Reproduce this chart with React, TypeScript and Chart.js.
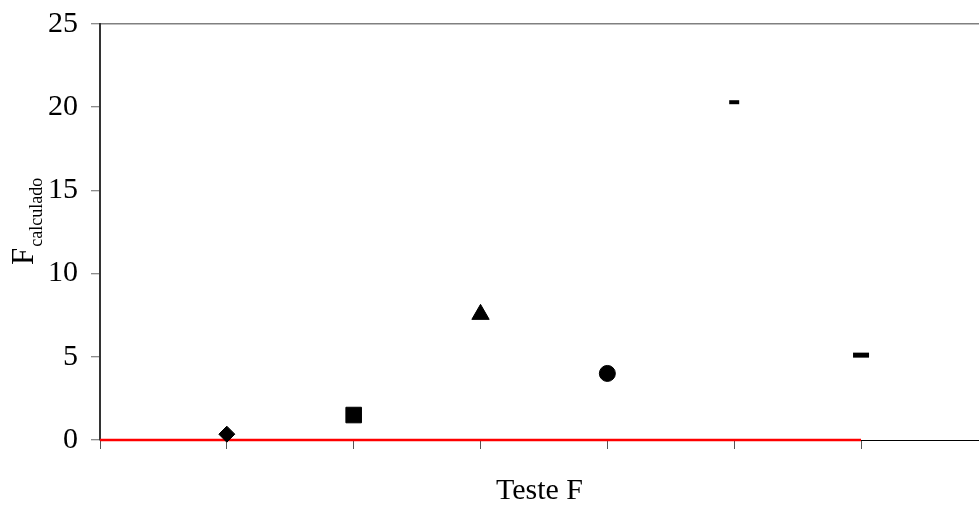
import React, { useEffect, useRef } from "react";
import { Chart, registerables } from "chart.js";

Chart.register(...registerables);

// ---- data ----
const categories = [1, 2, 3, 4, 5, 6];
const fValues = [0.35, 1.5, 7.55, 4.0, 20.3, 5.1];
const markerStyles = ["rectRot", "rect", "triangle", "circle", "line", "line"];
const markerRadius = [8, 11, 10, 8, 5, 8];
const markerBorder = [1, 1, 1, 1, 4, 5];
const yTicks = [0, 5, 10, 15, 20, 25];
const xTicks = [0, 1, 2, 3, 4, 5, 6];
const refLineX = [0, 6];
const refLineY = [0, 0];
const xTitle = "Teste F";
const yTitleMain = "F";
const yTitleSub = "calculado";

const SERIF = "'Liberation Serif', 'Times New Roman', serif";

const yTitlePlugin = {
  id: "yTitle",
  afterDraw(chart: any) {
    const { ctx, chartArea } = chart;
    const cy = (chartArea.top + chartArea.bottom) / 2;
    ctx.save();
    ctx.translate(chartArea.left - 67, cy + 33);
    ctx.rotate(-Math.PI / 2);
    ctx.fillStyle = "#000";
    ctx.textBaseline = "alphabetic";
    ctx.textAlign = "left";
    ctx.font = `31px ${SERIF}`;
    ctx.fillText(yTitleMain, 0, 0);
    const w = ctx.measureText(yTitleMain).width;
    ctx.font = `18px ${SERIF}`;
    ctx.fillText(yTitleSub, w + 1, 9);
    ctx.restore();
  },
};

export default function App() {
  const ref = useRef<HTMLCanvasElement>(null);
  useEffect(() => {
    if (!ref.current) return;
    const pointSets = categories.map((c, i) => ({
      type: "scatter" as const,
      data: [{ x: c, y: fValues[i] }],
      pointStyle: markerStyles[i],
      pointRadius: markerRadius[i],
      pointBorderWidth: markerBorder[i],
      backgroundColor: "#000",
      borderColor: "#000",
      showLine: false,
      clip: false,
    }));
    const chart = new Chart(ref.current, {
      type: "scatter",
      data: {
        datasets: [
          ...pointSets,
          {
            type: "line" as const,
            data: refLineX.map((x, i) => ({ x, y: refLineY[i] })),
            borderColor: "#ff0000",
            borderWidth: 2.5,
            pointRadius: 0,
            showLine: true,
            clip: false,
          } as any,
        ],
      },
      options: {
        animation: false,
        responsive: false,
        layout: { autoPadding: false, padding: { top: 24, right: 0, left: 0, bottom: 0 } },
        plugins: { legend: { display: false }, tooltip: { enabled: false } },
        scales: {
          x: {
            type: "linear",
            min: 0,
            max: 6.93,
            afterBuildTicks: (s: any) => {
              s.ticks = xTicks.map((v) => ({ value: v }));
            },
            afterFit: (s: any) => {
              s.height = 66;
              s.paddingLeft = 0;
              s.paddingRight = 0;
            },
            ticks: { display: false },
            grid: {
              drawOnChartArea: false,
              drawTicks: true,
              tickLength: 9,
              tickColor: "#555",
              tickWidth: 1,
            },
            border: { display: true, color: "#000", width: 1 },
            title: {
              display: true,
              text: xTitle,
              color: "#000",
              font: { family: SERIF, size: 30, lineHeight: 1 },
              padding: 0,
            },
          },
          y: {
            min: 0,
            max: 25,
            afterBuildTicks: (s: any) => {
              s.ticks = yTicks.map((v) => ({ value: v }));
            },
            afterFit: (s: any) => {
              s.width = 100;
              s.paddingTop = 0;
              s.paddingBottom = 0;
            },
            ticks: {
              color: "#000",
              font: { family: SERIF, size: 30 },
              padding: 13,
            },
            grid: {
              color: (c: any) => (c.tick && c.tick.value === 25 ? "#808080" : "rgba(0,0,0,0)"),
              lineWidth: 1.5,
              drawTicks: true,
              tickLength: 9,
              tickColor: "#666",
              tickWidth: 1,
            },
            border: { display: true, color: "#333", width: 2 },
          },
        },
      } as any,
      plugins: [yTitlePlugin],
    });
    return () => chart.destroy();
  }, []);
  return (
    <canvas
      ref={ref}
      width={979}
      height={506}
      style={{ position: "absolute", left: 0, top: 0, display: "block" }}
    />
  );
}
